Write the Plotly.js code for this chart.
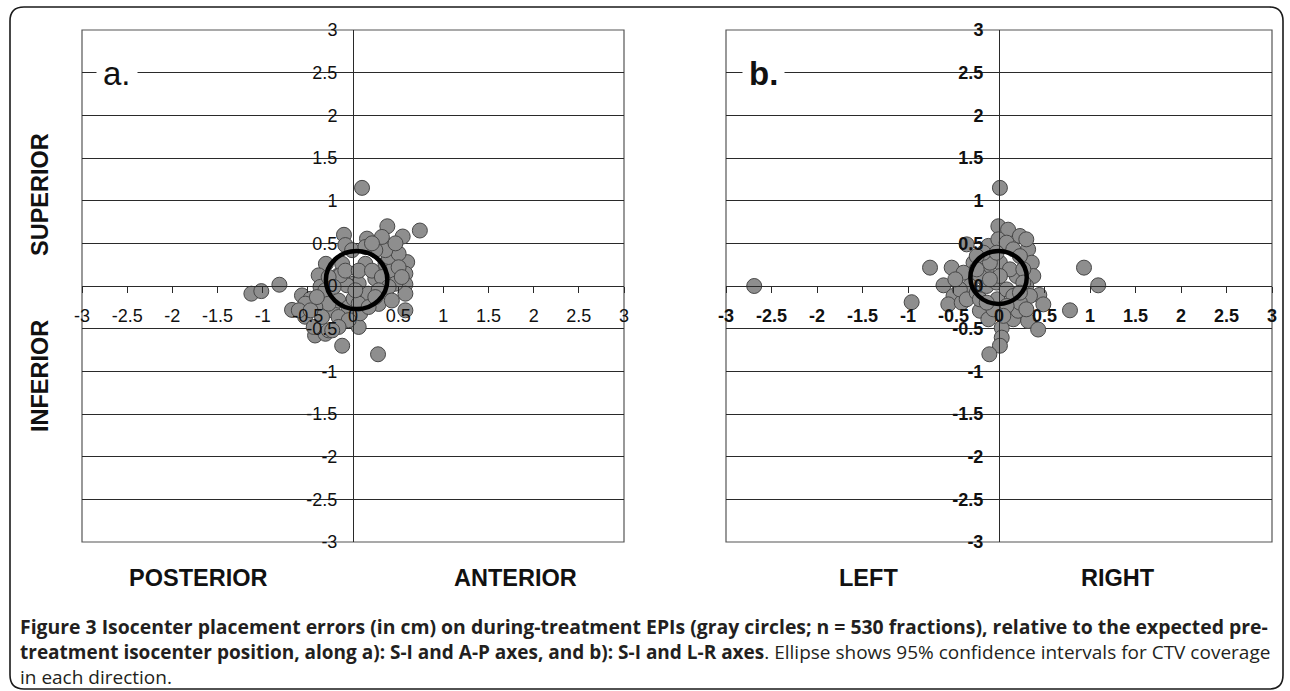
<!DOCTYPE html>
<html>
<head>
<meta charset="utf-8">
<script src="https://cdn.plot.ly/plotly-3.0.1.min.js"></script>
<style>html,body{margin:0;padding:0;background:#fff;}#chart{width:1290px;height:691px;}</style>
</head>
<body>
<div id="chart"></div>
<script>
// ---- Data: panel a (A-P horizontal, S-I vertical), cm
var aX = [0.10,0.38,0.74,0.55,-0.10,0.155,0.30,0.42,-0.085,-0.01,0.60,0.58,0.58,0.58,0.58,-0.30,-0.38,-0.815,-1.125,-1.015,-0.675,-0.565,-0.53,-0.42,-0.305,-0.27,-0.12,0.063,0.277,-0.435,-0.47,-0.36,-0.23,-0.16,-0.05,0.08,-0.16,-0.12,0.007,0.063,0.137,0.247,0.17,0.007,-0.066,-0.14,0.36,0.43,0.395,0.505,0.47,0.376,0.284,0.358,0.505,0.247,0.137,-0.27,-0.306,-0.27,-0.417,-0.343,-0.16,-0.048,-0.16,-0.23,-0.527,-0.60,-0.47,-0.40,-0.214,-0.085,0.063,0.21,0.32,0.395,0.284,0.063,0.173,0.247,0.026,0.47,0.32,0.21,0.54,0.43];
var aY = [1.15,0.70,0.65,0.58,0.60,0.555,0.535,0.465,0.48,0.42,0.28,0.145,0.02,-0.09,-0.285,0.26,0.125,0.015,-0.09,-0.06,-0.28,-0.11,-0.36,-0.58,-0.56,-0.52,-0.70,-0.48,-0.80,-0.48,-0.15,-0.01,-0.285,-0.17,-0.25,-0.32,0.125,0.26,0.027,0.027,0.26,0.086,-0.09,-0.15,0.008,0.125,0.26,0.18,0.34,0.38,0.027,-0.13,-0.21,0.42,0.22,0.42,0.457,0.105,-0.05,-0.207,-0.246,-0.363,-0.363,-0.40,-0.48,-0.52,-0.207,-0.285,-0.285,-0.13,-0.01,0.18,0.18,0.18,0.105,-0.01,-0.05,-0.207,-0.246,-0.13,-0.05,0.5,0.575,0.50,0.105,-0.17];
// ---- Data: panel b (L-R horizontal, S-I vertical), cm
var bX = [0.01,-0.007,0.10,0.23,-0.117,-0.007,-0.355,-0.758,-0.52,-0.61,-0.96,-0.50,-0.557,-0.41,-0.21,-0.117,0.03,0.03,0.01,-0.106,0.157,0.21,0.32,0.43,0.443,0.487,0.78,0.934,1.09,0.32,0.30,0.36,0.377,0.30,0.34,0.084,0.157,0.23,0.01,-0.135,-0.21,-0.28,-0.39,-0.32,-0.43,-0.355,-0.245,-0.135,-0.026,-0.018,0.084,0.194,0.157,0.23,0.084,-0.062,-0.21,-0.10,0.12,0.267,-0.17,-0.245,-0.026,0.01,-0.10,0.267,-0.135,0.048,0.23,0.30,-0.48,-0.245,-2.69];
var bY = [1.15,0.70,0.66,0.586,0.47,0.547,0.488,0.215,0.215,0.008,-0.19,-0.117,-0.215,-0.195,-0.29,-0.39,-0.49,-0.605,-0.70,-0.80,-0.39,-0.29,-0.41,-0.51,-0.105,-0.215,-0.285,0.215,0.008,0.43,0.547,0.273,0.117,0.0,-0.117,0.508,0.43,0.35,0.273,0.195,0.117,0.273,0.156,0.0,-0.04,-0.156,-0.078,0.0,0.04,-0.156,-0.04,0.117,-0.117,-0.195,-0.234,-0.273,-0.156,0.273,0.195,0.195,0.39,0.35,0.39,0.117,0.078,0.04,-0.195,-0.35,-0.078,-0.273,0.078,0.195,0.0];
// ---- 95% ellipses [centerX, centerY], [radiusX, radiusY]
var ellipseCenterA = [0.04, 0.07];
var ellipseRadiusA = [0.34, 0.34];
var ellipseCenterB = [-0.005, 0.10];
var ellipseRadiusB = [0.31, 0.31];
// ---- Tick labels
var tickVals = [-3,-2.5,-2,-1.5,-1,-0.5,0,0.5,1,1.5,2,2.5,3];
var tickText = ["-3","-2.5","-2","-1.5","-1","-0.5","0","0.5","1","1.5","2","2.5","3"];
// ---- Texts
var panelLabels = ["a.", "b."];
var sideLabels = ["SUPERIOR", "INFERIOR"];
var bottomLabels = ["POSTERIOR", "ANTERIOR", "LEFT", "RIGHT"];
var captionLines = [
  "<b>Figure 3 Isocenter placement errors (in cm) on during-treatment EPIs (gray circles; n = 530 fractions), relative to the expected pre-</b>",
  "<b>treatment isocenter position, along a): S-I and A-P axes, and b): S-I and L-R axes</b>. Ellipse shows 95% confidence intervals for CTV coverage",
  "in each direction."
];

var W = 1290, H = 691;
function px(p){ return p / W; }
function py(p){ return 1 - p / H; }

var yDom = [py(542), py(30)];
var ax1 = [px(82), px(624)];
var ax2 = [px(726), px(1272)];
var yMid = (yDom[0] + yDom[1]) / 2;

var marker = {size: 15, color: '#8e8e8e', line: {color: '#474747', width: 1}};
var traces = [
  {type: 'scatter', mode: 'markers', x: aX, y: aY, xaxis: 'x', yaxis: 'y', marker: marker, hoverinfo: 'skip'},
  {type: 'scatter', mode: 'markers', x: bX, y: bY, xaxis: 'x2', yaxis: 'y2', marker: marker, hoverinfo: 'skip'}
];

var tickFontA = {family: 'Liberation Sans, Arial, sans-serif', size: 18, color: '#111'};
var tickFontB = {family: 'Liberation Sans, Arial, sans-serif', size: 18, color: '#111', weight: 'bold'};

function xAxis(dom, font){
  return {domain: dom, range: [-3, 3], anchor: 'free', position: yMid, showgrid: false, zeroline: false,
    showline: true, linecolor: '#2a2a2a', linewidth: 1, ticks: 'outside', ticklen: 6, tickwidth: 1, tickcolor: '#2a2a2a',
    tickmode: 'array', tickvals: tickVals, ticktext: tickText, tickfont: font, ticklabelstandoff: 7, fixedrange: true};
}
function yAxis(dom, pos, font){
  return {domain: dom, range: [-3, 3], anchor: 'free', position: pos, showgrid: true, gridcolor: '#2a2a2a', gridwidth: 1,
    zeroline: false, showline: true, linecolor: '#2a2a2a', linewidth: 1, ticks: '',
    tickmode: 'array', tickvals: tickVals, ticktext: tickText, tickfont: font, ticklabelstandoff: 12, fixedrange: true};
}

function ellipse(xr, yr, c, r){
  return {type: 'circle', xref: xr, yref: yr, x0: c[0] - r[0], x1: c[0] + r[0], y0: c[1] - r[1], y1: c[1] + r[1],
    line: {color: '#000', width: 4.5}, layer: 'above'};
}
function box(xr, yr){
  return {type: 'rect', xref: xr + ' domain', yref: yr + ' domain', x0: 0, x1: 1, y0: 0, y1: 1,
    line: {color: '#555', width: 1.2}, layer: 'below'};
}
var L = 10, T = 7, R = 1283, B = 689, rr = 14;
var framePath = 'M ' + px(L) + ',' + py(B - rr) + ' L ' + px(L) + ',' + py(T + rr) +
  ' Q ' + px(L) + ',' + py(T) + ' ' + px(L + rr) + ',' + py(T) +
  ' L ' + px(R - rr) + ',' + py(T) +
  ' Q ' + px(R) + ',' + py(T) + ' ' + px(R) + ',' + py(T + rr) +
  ' L ' + px(R) + ',' + py(B - rr) +
  ' Q ' + px(R) + ',' + py(B) + ' ' + px(R - rr) + ',' + py(B) +
  ' L ' + px(L + rr) + ',' + py(B) +
  ' Q ' + px(L) + ',' + py(B) + ' ' + px(L) + ',' + py(B - rr) + ' Z';

var shapes = [
  box('x', 'y'), box('x2', 'y2'),
  ellipse('x', 'y', ellipseCenterA, ellipseRadiusA),
  ellipse('x2', 'y2', ellipseCenterB, ellipseRadiusB),
  {type: 'path', xref: 'paper', yref: 'paper', path: framePath, line: {color: '#1a1a1a', width: 1.6}, layer: 'above'}
];

var labFont = {family: 'Liberation Sans, Arial, sans-serif', size: 23.5, color: '#111', weight: 'bold'};
var annotations = [
  {xref: 'paper', yref: 'paper', x: px(117), y: py(73), text: panelLabels[0], showarrow: false,
    font: {family: 'Liberation Sans, Arial, sans-serif', size: 33, color: '#111'}, bgcolor: '#fff', borderpad: 6, xanchor: 'center', yanchor: 'middle'},
  {xref: 'paper', yref: 'paper', x: px(763), y: py(73), text: panelLabels[1], showarrow: false,
    font: {family: 'Liberation Sans, Arial, sans-serif', size: 33, color: '#111', weight: 'bold'}, bgcolor: '#fff', borderpad: 6, xanchor: 'center', yanchor: 'middle'},
  {xref: 'paper', yref: 'paper', x: px(40), y: py(195), text: sideLabels[0], textangle: -90, showarrow: false, font: labFont, xanchor: 'center', yanchor: 'middle'},
  {xref: 'paper', yref: 'paper', x: px(40), y: py(376), text: sideLabels[1], textangle: -90, showarrow: false, font: labFont, xanchor: 'center', yanchor: 'middle'},
  {xref: 'paper', yref: 'paper', x: px(198), y: py(578), text: bottomLabels[0], showarrow: false, font: labFont, xanchor: 'center', yanchor: 'middle'},
  {xref: 'paper', yref: 'paper', x: px(515), y: py(578), text: bottomLabels[1], showarrow: false, font: labFont, xanchor: 'center', yanchor: 'middle'},
  {xref: 'paper', yref: 'paper', x: px(868), y: py(578), text: bottomLabels[2], showarrow: false, font: labFont, xanchor: 'center', yanchor: 'middle'},
  {xref: 'paper', yref: 'paper', x: px(1118), y: py(578), text: bottomLabels[3], showarrow: false, font: labFont, xanchor: 'center', yanchor: 'middle'}
];
var capY = [626, 651.5, 677];
var capSize = [19.4, 19.0, 19.0];
captionLines.forEach(function(t, i){
  annotations.push({xref: 'paper', yref: 'paper', x: px(19), y: py(capY[i]), text: t, showarrow: false,
    font: {family: 'Open Sans, Noto Sans, sans-serif', size: capSize[i], color: '#231f20'},
    xanchor: 'left', yanchor: 'middle', align: 'left', borderpad: 0});
});

var layout = {
  width: W, height: H, margin: {l: 0, r: 0, t: 0, b: 0}, paper_bgcolor: '#fff', plot_bgcolor: 'rgba(0,0,0,0)',
  showlegend: false,
  xaxis: xAxis(ax1, tickFontA), yaxis: yAxis(yDom, (ax1[0] + ax1[1]) / 2, tickFontA),
  xaxis2: xAxis(ax2, tickFontB), yaxis2: yAxis(yDom, (ax2[0] + ax2[1]) / 2, tickFontB),
  shapes: shapes, annotations: annotations
};
Plotly.newPlot('chart', traces, layout, {displayModeBar: false, staticPlot: true});
</script>
</body>
</html>
